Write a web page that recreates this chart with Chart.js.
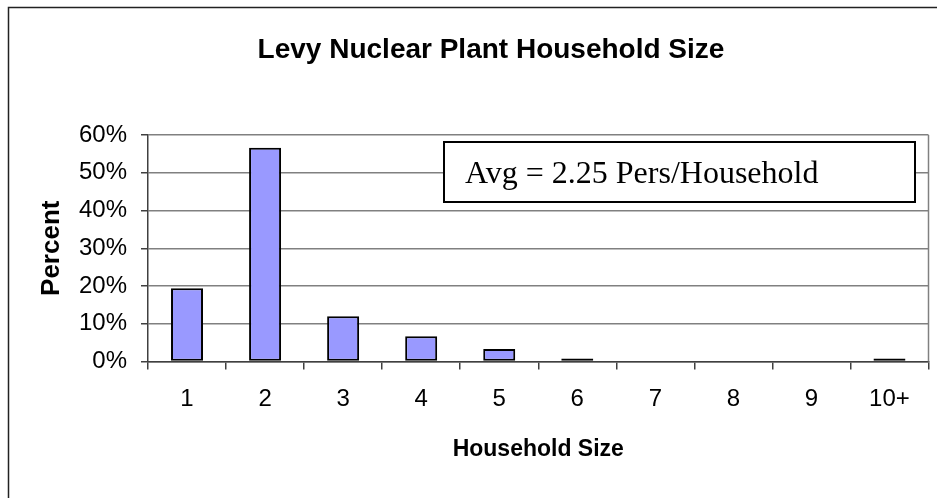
<!DOCTYPE html>
<html>
<head>
<meta charset="utf-8">
<title>Levy Nuclear Plant Household Size</title>
<script src="https://cdn.jsdelivr.net/npm/chart.js@4.4.0/dist/chart.umd.min.js"></script>
<style>
  html, body { margin: 0; padding: 0; background: #fff; }
  #wrap { width: 937px; height: 498px; position: relative; }
</style>
</head>
<body>
<div id="wrap"><canvas id="grafico"></canvas></div>
<script>
// =========================
// DATA
// =========================
const categorias   = ["1", "2", "3", "4", "5", "6", "7", "8", "9", "10+"];
const percentuais  = [19.4, 56.6, 12.0, 6.7, 3.3, 0.8, 0, 0, 0, 0.8];
const yTicks       = [0, 10, 20, 30, 40, 50, 60];
const tituloTexto  = "Levy Nuclear Plant Household Size";
const mediaTexto   = "Avg = 2.25 Pers/Household";

const SANS  = "'Liberation Sans', Arial, sans-serif";
const SERIF = "'Liberation Serif', 'Times New Roman', serif";

// =========================
// PLUGIN: borda externa, titulo, caixa da media
// =========================
const extras = {
  id: "extras",
  beforeDraw(chart) {
    const ctx = chart.ctx;
    ctx.save();
    ctx.fillStyle = "#fff";
    ctx.fillRect(0, 0, chart.width, chart.height);
    ctx.strokeStyle = "#222";
    ctx.lineWidth = 1.5;
    ctx.strokeRect(8.5, 7.5, chart.width + 20, chart.height + 20);

    ctx.fillStyle = "#000";
    ctx.font = "bold 28px " + SANS;
    ctx.textAlign = "center";
    ctx.textBaseline = "alphabetic";
    ctx.fillText(tituloTexto, 491, 58);
    ctx.restore();
  },
  afterDatasetsDraw(chart) {
    const ctx = chart.ctx;
    const a = chart.chartArea;
    ctx.save();
    // borda direita da area do grafico
    ctx.strokeStyle = "#808080";
    ctx.lineWidth = 1.5;
    ctx.beginPath();
    ctx.moveTo(a.right, a.top);
    ctx.lineTo(a.right, a.bottom);
    ctx.stroke();

    // caixa da media
    ctx.fillStyle = "#fff";
    ctx.fillRect(444, 142, 471, 60);
    ctx.strokeStyle = "#000";
    ctx.lineWidth = 2;
    ctx.strokeRect(444, 142, 471, 60);
    ctx.fillStyle = "#000";
    ctx.font = "32px " + SERIF;
    ctx.textAlign = "left";
    ctx.textBaseline = "alphabetic";
    ctx.fillText(mediaTexto, 465, 183);
    ctx.restore();
  }
};

// =========================
// GRAFICO
// =========================
new Chart(document.getElementById("grafico"), {
  type: "bar",
  data: {
    labels: categorias,
    datasets: [{
      label: "Percent",
      data: percentuais,
      // barras muito baixas ficam so com a borda preta visivel
      backgroundColor: c => (c.raw < 1 ? "#000" : "#9999FF"),
      borderColor: "#000",
      borderWidth: 2,
      borderSkipped: false,
      barPercentage: 0.41,
      categoryPercentage: 1
    }]
  },
  options: {
    responsive: true,
    maintainAspectRatio: false,
    animation: false,
    layout: { padding: { top: 135, left: 36, right: 8.5, bottom: 34.5 } },
    plugins: {
      legend: { display: false },
      tooltip: { enabled: false }
    },
    scales: {
      x: {
        offset: true,
        grid: {
          offset: true,
          drawOnChartArea: false,
          tickLength: 8,
          color: "#404040",
          lineWidth: 1.5
        },
        border: { color: "#404040", width: 1.5 },
        ticks: {
          color: "#000",
          padding: 15,
          font: { family: SANS, size: 24 }
        },
        title: {
          display: true,
          text: "Household Size",
          color: "#000",
          padding: 0,
          font: { family: SANS, size: 23, weight: "bold" }
        },
        afterFit(scale) { scale.height = 102; }
      },
      y: {
        min: 0,
        max: 60,
        afterBuildTicks(scale) { scale.ticks = yTicks.map(v => ({ value: v })); },
        grid: {
          color: "#808080",
          lineWidth: 1.5,
          tickLength: 7,
          tickColor: "#404040"
        },
        border: { color: "#404040", width: 1.5 },
        ticks: {
          color: "#000",
          padding: 14,
          font: { family: SANS, size: 24 },
          callback: v => v + "%"
        },
        title: {
          display: true,
          text: "Percent",
          color: "#000",
          padding: 0,
          font: { family: SANS, size: 26, weight: "bold" }
        },
        afterFit(scale) { scale.width = 112; }
      }
    }
  },
  plugins: [extras]
});
</script>
</body>
</html>
